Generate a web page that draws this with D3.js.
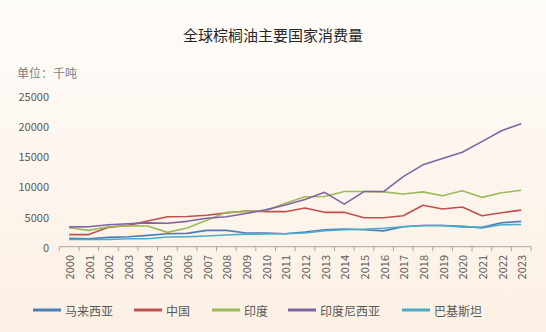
<!DOCTYPE html>
<html><head><meta charset="utf-8">
<script src="https://cdn.jsdelivr.net/npm/d3@7"></script>
<style>
html,body{margin:0;padding:0;background:#fdf8f1;}
svg{display:block;font-family:"Noto Sans CJK SC","Noto Sans",sans-serif;}
</style></head>
<body><svg id="c" width="546" height="332"></svg>
<script>
const title = "全球棕榈油主要国家消费量";
const unitLabel = "单位：千吨";
const years = ["2000","2001","2002","2003","2004","2005","2006","2007","2008","2009","2010","2011","2012","2013","2014","2015","2016","2017","2018","2019","2020","2021","2022","2023"];
const yTicks = [0,5000,10000,15000,20000,25000];
const seriesNames = ["马来西亚","中国","印度","印度尼西亚","巴基斯坦"];
const seriesColors = ["#4a7ebb","#c0504d","#9bbb59","#8064a2","#4bacc6"];
const malaysia  = [1400,1320,1550,1650,1880,2150,2200,2700,2700,2260,2260,2150,2430,2810,2930,2800,2620,3310,3500,3500,3280,3200,3970,4200];
const china     = [2000,2000,3200,3530,4250,4970,5000,5200,5600,5900,5800,5800,6400,5690,5690,4800,4800,5130,6870,6240,6570,5130,5630,6050];
const india     = [3150,2700,3300,3480,3420,2370,3100,4380,5700,5800,5950,7200,8280,8300,9130,9130,9080,8720,9080,8450,9270,8170,8920,9350];
const indonesia = [3280,3300,3640,3800,3950,3880,4200,4700,4970,5500,6100,6900,7800,9000,7050,9130,9130,11600,13550,14600,15650,17390,19200,20370];
const pakistan  = [1210,1200,1200,1320,1320,1600,1650,1770,1930,2080,2100,2150,2260,2650,2800,2900,3050,3310,3500,3500,3400,3090,3640,3680];
const seriesValues = [malaysia, china, india, indonesia, pakistan];

const svg = d3.select("#c");
const W = 546, H = 332;
const defs = svg.append("defs");
const g = defs.append("linearGradient").attr("id","bg").attr("x1",0).attr("y1",0).attr("x2",0).attr("y2",1);
g.append("stop").attr("offset","0%").attr("stop-color","#fefcf9");
g.append("stop").attr("offset","100%").attr("stop-color","#fcf0e4");
svg.append("rect").attr("width",W).attr("height",H).attr("fill","url(#bg)");

const x = d3.scaleBand().domain(years).range([59.3, 531]).padding(0);
const y = d3.scaleLinear().domain([0,25000]).range([246.7, 95.7]);
const cx = d => x(d) + x.bandwidth()/2;

svg.append("text").attr("x",273).attr("y",34).attr("text-anchor","middle").attr("dominant-baseline","central")
  .attr("font-size",15).attr("fill","#262626").text(title);
svg.append("text").attr("x",17).attr("y",72).attr("dominant-baseline","central")
  .attr("font-size",12).attr("fill","#7f7f7f").text(unitLabel);

// y labels
svg.append("g").selectAll("text").data(yTicks).join("text")
  .attr("x",49).attr("y",d=>y(d)).attr("text-anchor","end").attr("dominant-baseline","central")
  .attr("font-size",11).attr("fill","#595959").text(d=>d);

// x axis
const ax = svg.append("g");
ax.append("line").attr("x1",x.range()[0]).attr("x2",x.range()[1]).attr("y1",y(0)).attr("y2",y(0))
  .attr("stroke","#a6a6a6").attr("stroke-width",1);
const tickPos = years.map(d=>x(d)).concat([x.range()[1]]);
ax.selectAll("line.t").data(tickPos).join("line").attr("class","t")
  .attr("x1",d=>d).attr("x2",d=>d).attr("y1",y(0)).attr("y2",y(0)+4.5)
  .attr("stroke","#a6a6a6").attr("stroke-width",1);
ax.selectAll("text").data(years).join("text")
  .attr("transform",d=>`translate(${cx(d)},255) rotate(-90)`)
  .attr("text-anchor","end").attr("dominant-baseline","central")
  .attr("font-size",11).attr("fill","#595959").text(d=>d);

// lines
const line = d3.line().x((v,i)=>cx(years[i])).y(v=>y(v));
seriesValues.forEach((vals,k)=>{
  svg.append("path").datum(vals).attr("d",line).attr("fill","none")
    .attr("stroke",seriesColors[k]).attr("stroke-width",1.6).attr("stroke-linejoin","round");
});

// legend
const legX = [33,134,212,288,402];
const lg = svg.append("g");
seriesNames.forEach((n,k)=>{
  lg.append("line").attr("x1",legX[k]).attr("x2",legX[k]+28).attr("y1",310).attr("y2",310)
    .attr("stroke",seriesColors[k]).attr("stroke-width",3);
  lg.append("text").attr("x",legX[k]+32).attr("y",310).attr("dominant-baseline","central")
    .attr("font-size",12).attr("fill","#595959").text(n);
});
</script></body></html>
